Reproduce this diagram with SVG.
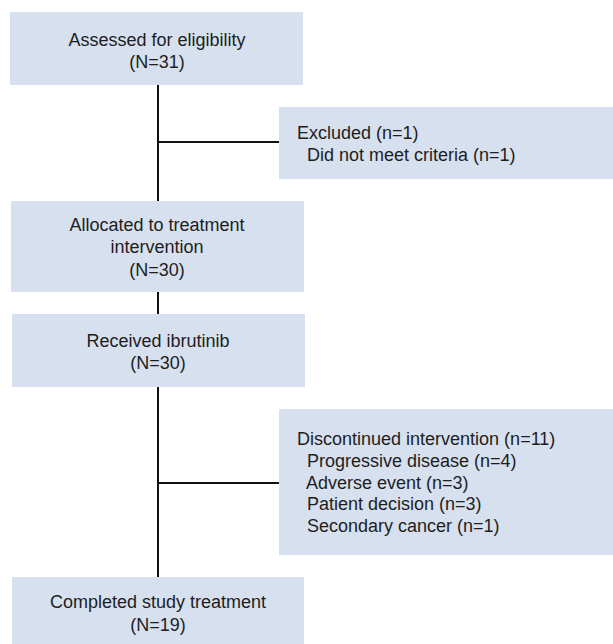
<svg xmlns="http://www.w3.org/2000/svg" width="613" height="644" viewBox="0 0 613 644">
<style>
.box{fill:#d6e0ee;}
.t{font-family:"Liberation Sans",Arial,sans-serif;font-size:18px;fill:#1e1e1e;}
.c{text-anchor:middle;}
.ln{stroke:#111;stroke-width:2;fill:none;}
</style>
<rect width="613" height="644" fill="#fff"/>
<g id="connectors">
<line class="ln" x1="158" y1="85" x2="158" y2="201"/>
<line class="ln" x1="158" y1="142" x2="279" y2="142"/>
<line class="ln" x1="158" y1="292" x2="158" y2="314"/>
<line class="ln" x1="158" y1="387" x2="158" y2="577"/>
<line class="ln" x1="158" y1="483" x2="279" y2="483"/>
</g>
<g id="assessed">
<rect class="box" x="10" y="12" width="293" height="73"/>
<text class="t c" x="157" y="46">Assessed for eligibility</text>
<text class="t c" x="157" y="68">(N=31)</text>
</g>
<g id="excluded">
<rect class="box" x="279" y="107" width="334" height="72"/>
<text class="t" x="297" y="139">Excluded (n=1)</text>
<text class="t" x="307" y="161">Did not meet criteria (n=1)</text>
</g>
<g id="allocated">
<rect class="box" x="11" y="201" width="293" height="91"/>
<text class="t c" x="157" y="231">Allocated to treatment</text>
<text class="t c" x="157" y="253">intervention</text>
<text class="t c" x="157" y="276">(N=30)</text>
</g>
<g id="received">
<rect class="box" x="12" y="314" width="293" height="73"/>
<text class="t c" x="158" y="347">Received ibrutinib</text>
<text class="t c" x="158" y="369">(N=30)</text>
</g>
<g id="discontinued">
<rect class="box" x="279" y="409" width="334" height="146"/>
<text class="t" x="297" y="445">Discontinued intervention (n=11)</text>
<text class="t" x="307" y="467">Progressive disease (n=4)</text>
<text class="t" x="306" y="489">Adverse event (n=3)</text>
<text class="t" x="307" y="510">Patient decision (n=3)</text>
<text class="t" x="307" y="532">Secondary cancer (n=1)</text>
</g>
<g id="completed">
<rect class="box" x="12" y="577" width="292" height="67"/>
<text class="t c" x="158" y="608">Completed study treatment</text>
<text class="t c" x="158" y="631">(N=19)</text>
</g>
</svg>
